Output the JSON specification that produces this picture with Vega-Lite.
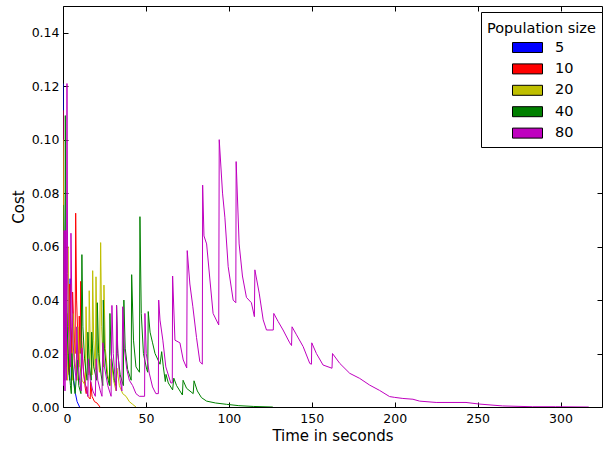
{
"$schema":"https://vega.github.io/schema/vega-lite/v6.json",
"width":539,"height":401,
"autosize":{"type":"none"},
"padding":{"left":63,"top":6,"right":1,"bottom":43},
"background":"white",
"config":{"font":"DejaVu Sans","view":{"stroke":"black","strokeWidth":1},
 "axis":{"grid":false,"domain":false,"labelFont":"DejaVu Sans","labelFontSize":12.5,"labelColor":"black","tickColor":"black","tickWidth":1,"titleFont":"DejaVu Sans","titleFontSize":15,"titleFontWeight":"normal","titleColor":"black"}},
"datasets":{"d":[
{"s":5,"t":0,"c":0.121},{"s":5,"t":0.3,"c":0.08},{"s":5,"t":0.8,"c":0.05},{"s":5,"t":1.5,"c":0.03},{"s":5,"t":2.5,"c":0.02},{"s":5,"t":3.5,"c":0.013},{"s":5,"t":4.1,"c":0.01},{"s":5,"t":4.3,"c":0.048},{"s":5,"t":4.8,"c":0.03},{"s":5,"t":5.5,"c":0.018},{"s":5,"t":6.5,"c":0.01},{"s":5,"t":7.5,"c":0.005},{"s":5,"t":8.5,"c":0.002},{"s":5,"t":10,"c":0},
{"s":10,"t":0,"c":0.111},{"s":10,"t":0.3,"c":0.07},{"s":10,"t":0.7,"c":0.04},{"s":10,"t":1.2,"c":0.025},{"s":10,"t":2.0,"c":0.015},{"s":10,"t":2.4,"c":0.035},{"s":10,"t":3.0,"c":0.02},{"s":10,"t":3.8,"c":0.012},{"s":10,"t":4.1,"c":0.046},{"s":10,"t":4.7,"c":0.03},{"s":10,"t":5.4,"c":0.02},{"s":10,"t":5.8,"c":0.043},{"s":10,"t":6.5,"c":0.03},{"s":10,"t":7.3,"c":0.02},{"s":10,"t":7.65,"c":0.0725},{"s":10,"t":8.2,"c":0.04},{"s":10,"t":9.0,"c":0.025},{"s":10,"t":9.5,"c":0.015},{"s":10,"t":9.8,"c":0.034},{"s":10,"t":10.3,"c":0.02},{"s":10,"t":10.7,"c":0.047},{"s":10,"t":11.3,"c":0.025},{"s":10,"t":12.2,"c":0.015},{"s":10,"t":13.2,"c":0.008},{"s":10,"t":14.0,"c":0.005},{"s":10,"t":14.3,"c":0.0076},{"s":10,"t":15.0,"c":0.004},{"s":10,"t":16.4,"c":0.003},{"s":10,"t":16.7,"c":0.0095},{"s":10,"t":17.5,"c":0.004},{"s":10,"t":19.0,"c":0.002},{"s":10,"t":20.5,"c":0.0015},{"s":10,"t":22.3,"c":0},
{"s":20,"t":0,"c":0.1},{"s":20,"t":0.3,"c":0.05},{"s":20,"t":0.8,"c":0.025},{"s":20,"t":1.5,"c":0.015},{"s":20,"t":2.8,"c":0.01},{"s":20,"t":3.0,"c":0.06},{"s":20,"t":3.6,"c":0.03},{"s":20,"t":4.5,"c":0.018},{"s":20,"t":5.8,"c":0.01},{"s":20,"t":6.0,"c":0.035},{"s":20,"t":7.0,"c":0.018},{"s":20,"t":8.5,"c":0.01},{"s":20,"t":9.0,"c":0.03},{"s":20,"t":10.0,"c":0.016},{"s":20,"t":11.5,"c":0.01},{"s":20,"t":13.5,"c":0.008},{"s":20,"t":13.9,"c":0.0375},{"s":20,"t":14.5,"c":0.02},{"s":20,"t":15.5,"c":0.012},{"s":20,"t":15.8,"c":0.0435},{"s":20,"t":16.5,"c":0.022},{"s":20,"t":17.5,"c":0.012},{"s":20,"t":17.9,"c":0.051},{"s":20,"t":18.5,"c":0.025},{"s":20,"t":19.5,"c":0.014},{"s":20,"t":19.9,"c":0.0487},{"s":20,"t":20.5,"c":0.024},{"s":20,"t":22.0,"c":0.013},{"s":20,"t":22.7,"c":0.0615},{"s":20,"t":23.3,"c":0.03},{"s":20,"t":24.3,"c":0.015},{"s":20,"t":24.7,"c":0.0456},{"s":20,"t":25.5,"c":0.022},{"s":20,"t":27.0,"c":0.012},{"s":20,"t":28.5,"c":0.008},{"s":20,"t":29.0,"c":0.018},{"s":20,"t":30.5,"c":0.01},{"s":20,"t":32.0,"c":0.006},{"s":20,"t":32.5,"c":0.0146},{"s":20,"t":34.0,"c":0.008},{"s":20,"t":36.0,"c":0.005},{"s":20,"t":38.0,"c":0.004},{"s":20,"t":40.0,"c":0.002},{"s":20,"t":42.0,"c":0.001},{"s":20,"t":44.0,"c":0},
{"s":40,"t":0,"c":0.0756},{"s":40,"t":0.3,"c":0.04},{"s":40,"t":0.6,"c":0.02},{"s":40,"t":1.0,"c":0.01},{"s":40,"t":1.4,"c":0.109},{"s":40,"t":1.8,"c":0.05},{"s":40,"t":2.5,"c":0.03},{"s":40,"t":3.5,"c":0.015},{"s":40,"t":4.5,"c":0.008},{"s":40,"t":5.0,"c":0.005},{"s":40,"t":5.3,"c":0.02},{"s":40,"t":6.3,"c":0.01},{"s":40,"t":7.3,"c":0.005},{"s":40,"t":8.8,"c":0.0176},{"s":40,"t":9.5,"c":0.008},{"s":40,"t":10.8,"c":0.005},{"s":40,"t":11.4,"c":0.057},{"s":40,"t":12.0,"c":0.03},{"s":40,"t":13.0,"c":0.018},{"s":40,"t":14.5,"c":0.01},{"s":40,"t":15.0,"c":0.028},{"s":40,"t":16.0,"c":0.015},{"s":40,"t":17.0,"c":0.01},{"s":40,"t":17.3,"c":0.028},{"s":40,"t":18.5,"c":0.015},{"s":40,"t":20.3,"c":0.01},{"s":40,"t":20.7,"c":0.039},{"s":40,"t":21.5,"c":0.02},{"s":40,"t":23.0,"c":0.012},{"s":40,"t":24.0,"c":0.008},{"s":40,"t":24.3,"c":0.04},{"s":40,"t":25.0,"c":0.022},{"s":40,"t":26.5,"c":0.012},{"s":40,"t":28.0,"c":0.008},{"s":40,"t":28.3,"c":0.035},{"s":40,"t":29.0,"c":0.02},{"s":40,"t":31.0,"c":0.01},{"s":40,"t":32.0,"c":0.008},{"s":40,"t":32.3,"c":0.038},{"s":40,"t":33.0,"c":0.02},{"s":40,"t":34.5,"c":0.012},{"s":40,"t":36.4,"c":0.008},{"s":40,"t":36.7,"c":0.04},{"s":40,"t":37.5,"c":0.022},{"s":40,"t":39.0,"c":0.014},{"s":40,"t":41.1,"c":0.01},{"s":40,"t":41.4,"c":0.0495},{"s":40,"t":42.5,"c":0.025},{"s":40,"t":44.0,"c":0.015},{"s":40,"t":46.1,"c":0.013},{"s":40,"t":46.4,"c":0.0712},{"s":40,"t":47.2,"c":0.035},{"s":40,"t":48.5,"c":0.02},{"s":40,"t":50.5,"c":0.014},{"s":40,"t":51.1,"c":0.013},{"s":40,"t":51.4,"c":0.0357},{"s":40,"t":52.5,"c":0.028},{"s":40,"t":54.0,"c":0.024},{"s":40,"t":55.5,"c":0.02},{"s":40,"t":58.5,"c":0.016},{"s":40,"t":59.5,"c":0.0207},{"s":40,"t":60.5,"c":0.015},{"s":40,"t":61.7,"c":0.0095},{"s":40,"t":62.1,"c":0.0122},{"s":40,"t":63.5,"c":0.009},{"s":40,"t":66.1,"c":0.0064},{"s":40,"t":66.8,"c":0.0108},{"s":40,"t":68.5,"c":0.008},{"s":40,"t":72.0,"c":0.0045},{"s":40,"t":72.4,"c":0.01},{"s":40,"t":74.5,"c":0.007},{"s":40,"t":78.5,"c":0.005},{"s":40,"t":79.0,"c":0.0098},{"s":40,"t":81.0,"c":0.006},{"s":40,"t":83.5,"c":0.0035},{"s":40,"t":86.6,"c":0.0022},{"s":40,"t":92.0,"c":0.0015},{"s":40,"t":98.6,"c":0.001},{"s":40,"t":106.0,"c":0.0005},{"s":40,"t":115.0,"c":0.0002},{"s":40,"t":126.5,"c":0},
{"s":80,"t":0,"c":0.066},{"s":80,"t":0.4,"c":0.008},{"s":80,"t":0.8,"c":0.066},{"s":80,"t":1.2,"c":0.006},{"s":80,"t":1.6,"c":0.066},{"s":80,"t":2.0,"c":0.01},{"s":80,"t":2.4,"c":0.121},{"s":80,"t":2.8,"c":0.05},{"s":80,"t":3.3,"c":0.03},{"s":80,"t":3.8,"c":0.02},{"s":80,"t":4.6,"c":0.015},{"s":80,"t":4.8,"c":0.065},{"s":80,"t":5.3,"c":0.04},{"s":80,"t":6.0,"c":0.025},{"s":80,"t":7.0,"c":0.015},{"s":80,"t":8.0,"c":0.01},{"s":80,"t":8.3,"c":0.03},{"s":80,"t":9.0,"c":0.018},{"s":80,"t":10.0,"c":0.01},{"s":80,"t":11.0,"c":0.006},{"s":80,"t":11.3,"c":0.022},{"s":80,"t":12.5,"c":0.012},{"s":80,"t":14.0,"c":0.007},{"s":80,"t":15.0,"c":0.004},{"s":80,"t":15.3,"c":0.018},{"s":80,"t":16.5,"c":0.01},{"s":80,"t":18.0,"c":0.006},{"s":80,"t":19.5,"c":0.004},{"s":80,"t":20.0,"c":0.018},{"s":80,"t":21.0,"c":0.01},{"s":80,"t":22.5,"c":0.006},{"s":80,"t":23.5,"c":0.004},{"s":80,"t":24.0,"c":0.024},{"s":80,"t":25.0,"c":0.015},{"s":80,"t":27.0,"c":0.008},{"s":80,"t":29.0,"c":0.004},{"s":80,"t":29.5,"c":0.038},{"s":80,"t":30.3,"c":0.02},{"s":80,"t":31.5,"c":0.01},{"s":80,"t":32.2,"c":0.006},{"s":80,"t":32.3,"c":0.038},{"s":80,"t":33.0,"c":0.022},{"s":80,"t":34.0,"c":0.012},{"s":80,"t":35.5,"c":0.006},{"s":80,"t":36.0,"c":0.0375},{"s":80,"t":37.0,"c":0.022},{"s":80,"t":38.5,"c":0.014},{"s":80,"t":40.0,"c":0.01},{"s":80,"t":42.0,"c":0.008},{"s":80,"t":44.0,"c":0.005},{"s":80,"t":46.0,"c":0.004},{"s":80,"t":49.2,"c":0.004},{"s":80,"t":49.4,"c":0.035},{"s":80,"t":50.2,"c":0.02},{"s":80,"t":52.0,"c":0.0127},{"s":80,"t":54.0,"c":0.0075},{"s":80,"t":56.0,"c":0.005},{"s":80,"t":57.5,"c":0.005},{"s":80,"t":57.7,"c":0.04},{"s":80,"t":58.5,"c":0.0325},{"s":80,"t":60.2,"c":0.025},{"s":80,"t":62.0,"c":0.015},{"s":80,"t":65.0,"c":0.009},{"s":80,"t":65.9,"c":0.009},{"s":80,"t":66.1,"c":0.049},{"s":80,"t":67.5,"c":0.025},{"s":80,"t":70.5,"c":0.024},{"s":80,"t":72.5,"c":0.0176},{"s":80,"t":74.6,"c":0.0146},{"s":80,"t":74.9,"c":0.0585},{"s":80,"t":76.5,"c":0.046},{"s":80,"t":78.3,"c":0.0375},{"s":80,"t":80.5,"c":0.026},{"s":80,"t":82.5,"c":0.017},{"s":80,"t":84.0,"c":0.016},{"s":80,"t":84.2,"c":0.083},{"s":80,"t":85.0,"c":0.064},{"s":80,"t":86.6,"c":0.061},{"s":80,"t":88.6,"c":0.0475},{"s":80,"t":90.5,"c":0.035},{"s":80,"t":93.9,"c":0.0307},{"s":80,"t":94.2,"c":0.1},{"s":80,"t":96.2,"c":0.08},{"s":80,"t":97.6,"c":0.071},{"s":80,"t":99.6,"c":0.0525},{"s":80,"t":102.6,"c":0.04},{"s":80,"t":104.2,"c":0.039},{"s":80,"t":104.4,"c":0.0918},{"s":80,"t":106.2,"c":0.061},{"s":80,"t":108.2,"c":0.049},{"s":80,"t":110.6,"c":0.041},{"s":80,"t":113.6,"c":0.039},{"s":80,"t":115.4,"c":0.0338},{"s":80,"t":115.7,"c":0.0513},{"s":80,"t":118.3,"c":0.0426},{"s":80,"t":120.7,"c":0.0326},{"s":80,"t":122.7,"c":0.0288},{"s":80,"t":126.8,"c":0.0288},{"s":80,"t":127.1,"c":0.035},{"s":80,"t":129.7,"c":0.032},{"s":80,"t":132.7,"c":0.0288},{"s":80,"t":136.7,"c":0.024},{"s":80,"t":137.8,"c":0.023},{"s":80,"t":138.1,"c":0.03},{"s":80,"t":140.8,"c":0.027},{"s":80,"t":144.8,"c":0.0226},{"s":80,"t":148.8,"c":0.0163},{"s":80,"t":149.8,"c":0.016},{"s":80,"t":150.0,"c":0.024},{"s":80,"t":152.8,"c":0.02},{"s":80,"t":156.8,"c":0.0157},{"s":80,"t":162.2,"c":0.0145},{"s":80,"t":162.5,"c":0.02},{"s":80,"t":166.9,"c":0.0163},{"s":80,"t":172.9,"c":0.0126},{"s":80,"t":178.9,"c":0.0107},{"s":80,"t":184.9,"c":0.0082},{"s":80,"t":190.9,"c":0.0062},{"s":80,"t":196.9,"c":0.0039},{"s":80,"t":200.0,"c":0.0036},{"s":80,"t":204.9,"c":0.0032},{"s":80,"t":211.0,"c":0.0029},{"s":80,"t":215.0,"c":0.0022},{"s":80,"t":225.0,"c":0.0017},{"s":80,"t":243.0,"c":0.0017},{"s":80,"t":251.0,"c":0.0011},{"s":80,"t":265.0,"c":0.0004},{"s":80,"t":283.0,"c":0.0001},{"s":80,"t":297.0,"c":0.0001},{"s":80,"t":317.0,"c":0}
]},
"data":{"name":"d"},
"layer":[
 {"mark":{"type":"line","strokeWidth":1,"clip":true},
  "encoding":{
   "x":{"field":"t","type":"quantitative","scale":{"domain":[0,325],"nice":false,"zero":false},
        "axis":{"orient":"bottom","title":"Time in seconds","values":[0,50,100,150,200,250,300],"format":"d","tickSize":-5,"labelPadding":10,"titlePadding":4}},
   "y":{"field":"c","type":"quantitative","scale":{"domain":[0,0.15],"nice":false},
        "axis":{"orient":"left","title":"Cost","values":[0,0.02,0.04,0.06,0.08,0.1,0.12,0.14],"format":".2f","tickSize":-5,"labelPadding":9,"titlePadding":5}},
   "color":{"field":"s","type":"nominal","scale":{"domain":[5,10,20,40,80],"range":["#0000ff","#ff0000","#bfbf00","#008000","#bf00bf"]},"legend":null}
  }},
 {"transform":[{"filter":"datum.t < 0"}],
  "mark":{"type":"square"},
  "encoding":{
   "x":{"field":"t","type":"quantitative","scale":{"domain":[0,325],"nice":false,"zero":false},
        "axis":{"orient":"top","title":null,"values":[0,50,100,150,200,250,300],"labels":false,"tickSize":-5}},
   "y":{"field":"c","type":"quantitative","scale":{"domain":[0,0.15],"nice":false},
        "axis":{"orient":"right","title":null,"values":[0,0.02,0.04,0.06,0.08,0.1,0.12,0.14],"labels":false,"tickSize":-5}},
   "fill":{"field":"s","type":"nominal","scale":{"domain":["5","10","20","40","80"],"range":["#0000ff","#ff0000","#bfbf00","#008000","#bf00bf"]},
     "legend":{"orient":"none","legendX":418,"legendY":6,"title":"Population size","titleFont":"DejaVu Sans","titleFontSize":14.5,"titleFontWeight":"normal","titleColor":"black","titlePadding":4.5,"titleBaseline":"line-top","titleLineHeight":22,
       "labelFont":"DejaVu Sans","labelFontSize":14.5,"labelColor":"black","labelOffset":17,
       "symbolType":"M-1.5,-0.5L1.5,-0.5L1.5,0.5L-1.5,0.5Z","symbolSize":400,"symbolStrokeColor":"black","symbolStrokeWidth":1,"symbolOpacity":1,"symbolOffset":30,
       "fillColor":"white","strokeColor":"black","padding":6,"rowPadding":3.4,"cornerRadius":0}}
  }}
],
"resolve":{"axis":{"x":"independent","y":"independent"}}
}
